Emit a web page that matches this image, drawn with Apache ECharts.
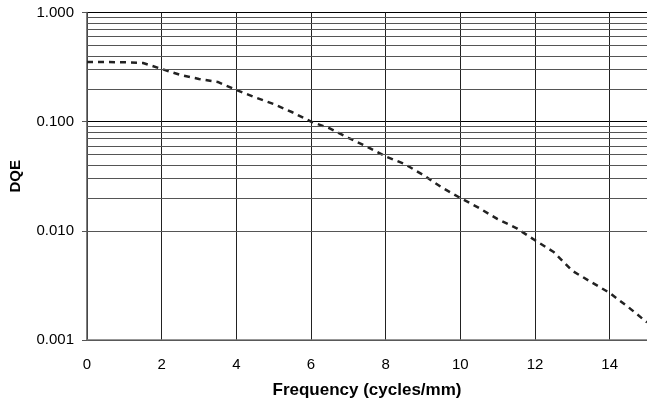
<!DOCTYPE html>
<html>
<head>
<meta charset="utf-8">
<script src="https://cdn.jsdelivr.net/npm/echarts@6/dist/echarts.min.js"></script>
<style>
  html, body { margin: 0; padding: 0; background: #fff; }
  #dqeChart { width: 647px; height: 402px; }
</style>
</head>
<body>
<div id="dqeChart"></div>
<script>
// data
const freq = [0, 0.5, 1, 1.5, 2, 2.5, 3, 3.5, 4, 4.5, 5, 5.5, 6, 6.5, 7, 7.5, 8, 8.5, 9, 9.5, 10, 10.5, 11, 11.5, 12, 12.5, 13, 13.5, 14, 14.5, 15]
const dqe = [0.352, 0.352, 0.35, 0.345, 0.304, 0.268, 0.246, 0.231, 0.195, 0.167, 0.145, 0.122, 0.1, 0.087, 0.071, 0.059, 0.048, 0.041, 0.0326, 0.025, 0.020, 0.0162, 0.0128, 0.0106, 0.0082, 0.0064, 0.0043, 0.0034, 0.0027, 0.0020, 0.00145]
const yTicks = [0.001, 0.01, 0.1, 1]
const minorLines = []
yTicks.slice(0, 3).forEach(d => {
  for (let k = 2; k <= 9; k++) minorLines.push(+(d * k).toPrecision(3))
})

const chart = echarts.init(document.getElementById('dqeChart'))
const font = 'Liberation Sans, Arial, sans-serif'

chart.setOption({
  animation: false,
  grid: { left: 87, right: 0, top: 12.5, bottom: 62, outerBoundsMode: 'none', containLabel: false },
  xAxis: {
    type: 'value',
    min: 0,
    max: 15,
    interval: 2,
    name: 'Frequency (cycles/mm)',
    nameLocation: 'middle',
    nameGap: 42,
    nameTextStyle: { fontFamily: font, fontSize: 17, fontWeight: 'bold', color: '#000' },
    axisLine: { lineStyle: { color: '#777', width: 1.5 } },
    axisTick: { show: false },
    axisLabel: { showMaxLabel: false, margin: 17, fontFamily: font, fontSize: 15, color: '#000' },
    splitLine: { show: true, lineStyle: { color: '#222', width: 1 } }
  },
  yAxis: {
    type: 'log',
    logBase: 10,
    min: 0.001,
    max: 1,
    name: 'DQE',
    nameLocation: 'middle',
    nameGap: 64,
    nameTextStyle: { fontFamily: font, fontSize: 15, fontWeight: 'bold', color: '#000' },
    axisLine: { show: true, lineStyle: { color: '#555', width: 1.5 } },
    axisTick: { show: true, length: 5, lineStyle: { color: '#555' } },
    axisLabel: {
      fontFamily: font, fontSize: 15, color: '#000', margin: 13,
      formatter: v => v.toFixed(3)
    },
    splitLine: { show: true, lineStyle: { color: '#000', width: 1 } }
  },
  series: [{
    type: 'line',
    data: freq.map((f, i) => [f, dqe[i]]),
    showSymbol: false,
    lineStyle: { color: '#222', width: 2.5, type: [6, 5] },
    markLine: {
      silent: true,
      symbol: 'none',
      label: { show: false },
      lineStyle: { color: '#555', width: 1, type: 'solid' },
      data: minorLines.map(v => ({ yAxis: v }))
    },
    z: 3
  }]
})
</script>
</body>
</html>
